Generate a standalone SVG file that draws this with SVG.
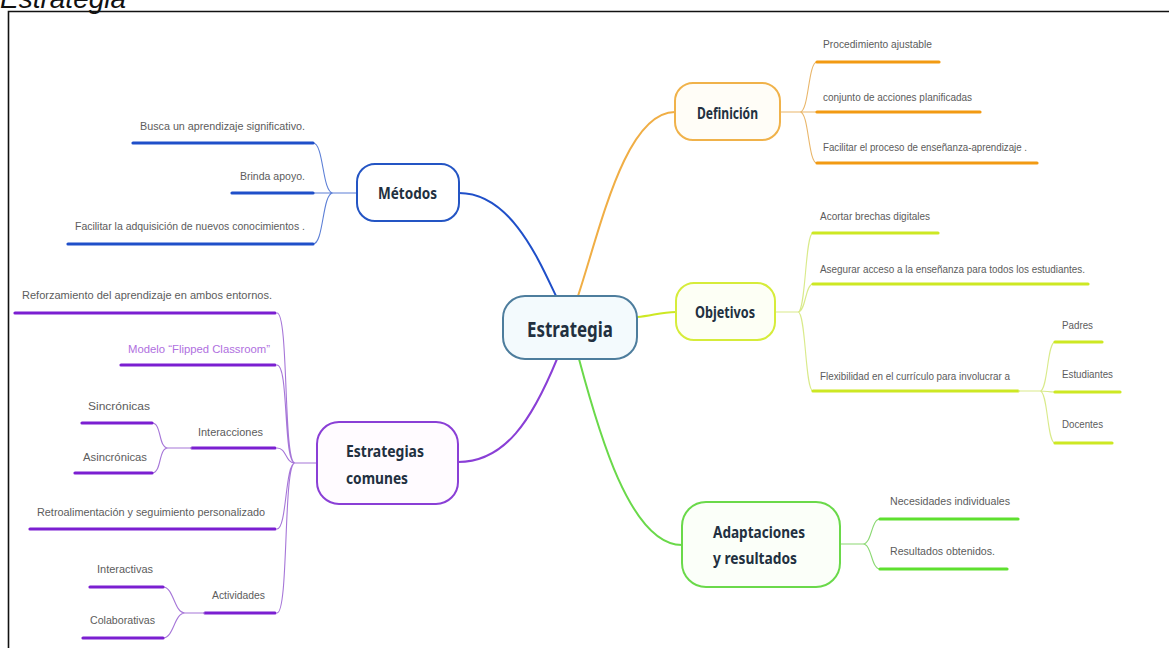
<svg xmlns="http://www.w3.org/2000/svg" width="1169" height="648" viewBox="0 0 1169 648">
<style>
.bg{fill:#ffffff}
.frame{fill:none;stroke:#111;stroke-width:1.6}
.title{font-family:"Liberation Sans",Arial,sans-serif;font-style:italic;font-size:28px;fill:#111}
.node rect{stroke-width:2}
.ntext{font-family:"Noto Sans","Open Sans",sans-serif;font-weight:bold;fill:#223040}
.ctext{font-family:"Liberation Sans",Arial,sans-serif;font-size:11px;fill:#5c5c5c}
.thin{fill:none;stroke-width:1.1}
.main{fill:none;stroke-width:2}
.ul{fill:none;stroke-width:3.2;stroke-linecap:round}
.blue{stroke:#1f4fc9}
.blueT{stroke:#5c7fd6}
.orange{stroke:#f29a12}
.orangeT{stroke:#e9b66a}
.lime{stroke:#cde823}
.limeT{stroke:#d9ea8a}
.purple{stroke:#7b1fd1}
.purpleT{stroke:#a676d8}
.green{stroke:#5ee02f}
.greenT{stroke:#8bd873}
</style>
<rect class="bg" x="0" y="0" width="1169" height="648"/>
<text class="title" x="0" y="8">Estrategia</text>
<path class="frame" d="M8.5,648 V11.5 H1169"/>

<g id="connectors">
  <!-- main branches -->
  <path class="main blue" d="M556,296 C538,258 510,193 459,193"/>
  <path class="main orange" style="stroke:#f0ae45" d="M578,296 C600,230 625,112 675,112"/>
  <path class="main lime" d="M637,317 C652,316 660,312 676,312"/>
  <path class="main purple" style="stroke:#8a3fd6" d="M557,359 C532,420 505,462 458,462"/>
  <path class="main green" style="stroke:#6ad94a" d="M579,359 C598,430 630,545 682,545"/>

  <!-- Métodos -->
  <path class="thin blueT" d="M357,193 H333 M333,193 C322,193 324,143 313,143 M333,193 H313 M333,193 C322,193 324,244 313,244"/>
  <path class="ul blue" d="M133,143 H313 M232,193 H313 M68,244 H313"/>

  <!-- Definición -->
  <path class="thin orangeT" d="M780,112 H800 M800,112 C809,112 808,62 817,62 M800,112 H817 M800,112 C809,112 808,163 817,163"/>
  <path class="ul orange" d="M817,62 H939 M817,112 H980 M817,163 H1037"/>

  <!-- Objetivos -->
  <path class="thin limeT" d="M775,312 H798 M798,312 C806,312 805,233 813,233 M798,312 C806,312 805,284 813,284 M798,312 C806,312 805,391 813,391"/>
  <path class="ul lime" d="M813,233 H938 M813,284 H1088 M813,391 H1018"/>
  <path class="thin limeT" d="M1018,391 H1040 M1040,391 C1048,391 1047,342 1055,342 M1040,391 C1048,391 1047,392 1055,392 M1040,391 C1048,391 1047,443 1055,443"/>
  <path class="ul lime" d="M1055,342 H1102 M1055,392 H1120 M1055,443 H1112"/>

  <!-- Estrategias comunes -->
  <path class="thin purpleT" d="M317,463 H295 M295,463 C283,463 289,313 277,313 M295,463 C283,463 289,365 277,365 M295,463 C285,463 287,448 277,448 M295,463 C285,463 287,529 277,529 M295,463 C283,463 289,613 277,613"/>
  <path class="ul purple" d="M15,313 H275 M121,365 H275 M192,448 H275 M30,529 H275 M205,613 H275"/>
  <path class="thin purpleT" d="M192,448 H168 M168,448 C158,448 162,423 152,423 M168,448 C158,448 162,473 152,473"/>
  <path class="ul purple" d="M82,423 H152 M75,473 H152"/>
  <path class="thin purpleT" d="M205,613 H185 M185,613 C174,613 174,587 163,587 M185,613 C174,613 174,638 163,638"/>
  <path class="ul purple" d="M90,587 H163 M83,638 H163"/>

  <!-- Adaptaciones -->
  <path class="thin greenT" d="M840,544 H863 M863,544 C872,544 871,519 880,519 M863,544 C872,544 871,569 880,569"/>
  <path class="ul green" d="M880,519 H1018 M880,569 H1007"/>
</g>

<g id="n-estrategia" class="node">
  <rect x="503" y="296" width="134" height="63" rx="22" fill="#f3fafd" stroke="#4d7d9d"/>
  <text class="ntext" x="527" y="337" font-size="22" textLength="86" lengthAdjust="spacingAndGlyphs">Estrategia</text>
</g>
<g id="n-metodos" class="node">
  <rect x="357" y="164" width="102" height="57" rx="18" fill="#ffffff" stroke="#2455c4"/>
  <text class="ntext" x="378" y="199" font-size="16" textLength="59" lengthAdjust="spacingAndGlyphs">Métodos</text>
</g>
<g id="n-definicion" class="node">
  <rect x="675" y="83" width="105" height="57" rx="18" fill="#fffdf7" stroke="#f0b24a"/>
  <text class="ntext" x="697" y="119" font-size="16" textLength="61" lengthAdjust="spacingAndGlyphs">Definición</text>
</g>
<g id="n-objetivos" class="node">
  <rect x="676" y="283" width="99" height="57" rx="18" fill="#fdfff5" stroke="#d6ec3a"/>
  <text class="ntext" x="695" y="318" font-size="16" textLength="60" lengthAdjust="spacingAndGlyphs">Objetivos</text>
</g>
<g id="n-estrategias-comunes" class="node">
  <rect x="317" y="422" width="141" height="82" rx="22" fill="#fffbff" stroke="#8a3fd6"/>
  <text class="ntext" x="346" y="457" font-size="16" textLength="78" lengthAdjust="spacingAndGlyphs">Estrategias</text>
  <text class="ntext" x="346" y="484" font-size="16" textLength="62" lengthAdjust="spacingAndGlyphs">comunes</text>
</g>
<g id="n-adaptaciones" class="node">
  <rect x="682" y="502" width="158" height="85" rx="24" fill="#fbfff9" stroke="#6ad94a"/>
  <text class="ntext" x="713" y="538" font-size="16" textLength="92" lengthAdjust="spacingAndGlyphs">Adaptaciones</text>
  <text class="ntext" x="713" y="564" font-size="16" textLength="84" lengthAdjust="spacingAndGlyphs">y resultados</text>
</g>

<g id="t-metodos">
  <text class="ctext" x="140" y="130" textLength="165" lengthAdjust="spacingAndGlyphs">Busca un aprendizaje significativo.</text>
  <text class="ctext" x="240" y="180" textLength="65" lengthAdjust="spacingAndGlyphs">Brinda apoyo.</text>
  <text class="ctext" x="75" y="230" textLength="230" lengthAdjust="spacingAndGlyphs">Facilitar la adquisición de nuevos conocimientos .</text>
</g>
<g id="t-definicion">
  <text class="ctext" x="823" y="48" textLength="109" lengthAdjust="spacingAndGlyphs">Procedimiento ajustable</text>
  <text class="ctext" x="823" y="101" textLength="149" lengthAdjust="spacingAndGlyphs">conjunto de acciones planificadas</text>
  <text class="ctext" x="823" y="151" textLength="204" lengthAdjust="spacingAndGlyphs">Facilitar el proceso de enseñanza-aprendizaje .</text>
</g>
<g id="t-objetivos">
  <text class="ctext" x="820" y="220" textLength="110" lengthAdjust="spacingAndGlyphs">Acortar brechas digitales</text>
  <text class="ctext" x="820" y="273" textLength="265" lengthAdjust="spacingAndGlyphs">Asegurar acceso a la enseñanza para todos los estudiantes.</text>
  <text class="ctext" x="820" y="380" textLength="190" lengthAdjust="spacingAndGlyphs">Flexibilidad en el currículo para involucrar a</text>
  <text class="ctext" x="1062" y="329" textLength="31" lengthAdjust="spacingAndGlyphs">Padres</text>
  <text class="ctext" x="1062" y="378" textLength="51" lengthAdjust="spacingAndGlyphs">Estudiantes</text>
  <text class="ctext" x="1062" y="428" textLength="41" lengthAdjust="spacingAndGlyphs">Docentes</text>
</g>
<g id="t-estrategias-comunes">
  <text class="ctext" x="22" y="299" textLength="250" lengthAdjust="spacingAndGlyphs">Reforzamiento del aprendizaje en ambos entornos.</text>
  <text class="ctext" x="128" y="353" textLength="142" lengthAdjust="spacingAndGlyphs" style="fill:#b070e0">Modelo “Flipped Classroom”</text>
  <text class="ctext" x="88" y="410" textLength="62" lengthAdjust="spacingAndGlyphs">Sincrónicas</text>
  <text class="ctext" x="198" y="436" textLength="65" lengthAdjust="spacingAndGlyphs">Interacciones</text>
  <text class="ctext" x="83" y="461" textLength="64" lengthAdjust="spacingAndGlyphs">Asincrónicas</text>
  <text class="ctext" x="37" y="516" textLength="228" lengthAdjust="spacingAndGlyphs">Retroalimentación y seguimiento personalizado</text>
  <text class="ctext" x="97" y="573" textLength="56" lengthAdjust="spacingAndGlyphs">Interactivas</text>
  <text class="ctext" x="212" y="599" textLength="53" lengthAdjust="spacingAndGlyphs">Actividades</text>
  <text class="ctext" x="90" y="624" textLength="65" lengthAdjust="spacingAndGlyphs">Colaborativas</text>
</g>
<g id="t-adaptaciones">
  <text class="ctext" x="890" y="505" textLength="120" lengthAdjust="spacingAndGlyphs">Necesidades individuales</text>
  <text class="ctext" x="890" y="555" textLength="105" lengthAdjust="spacingAndGlyphs">Resultados obtenidos.</text>
</g>
</svg>
